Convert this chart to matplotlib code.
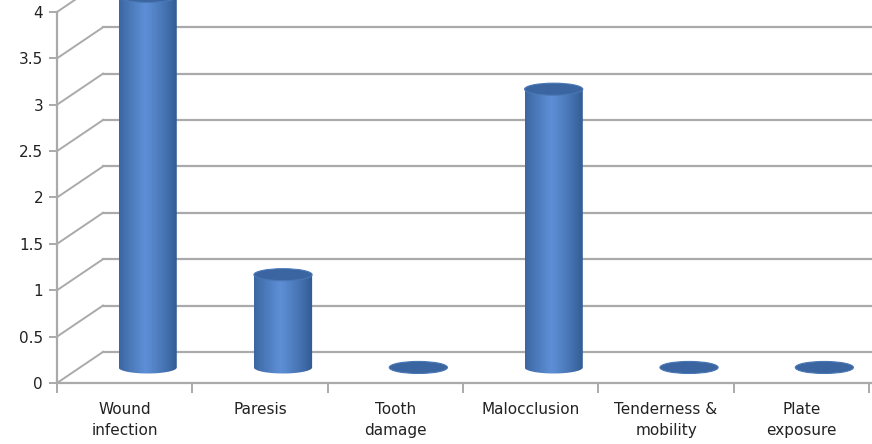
import matplotlib
matplotlib.use('Agg')
import matplotlib.pyplot as plt
import numpy as np
from matplotlib.patches import Ellipse
from matplotlib.path import Path
from matplotlib.patches import PathPatch

# ==================== data ====================
categories = ['Wound\ninfection', 'Paresis', 'Tooth\ndamage', 'Malocclusion',
              'Tenderness &\nmobility', 'Plate\nexposure']
values = [4, 1, 0, 3, 0, 0]
yticks = [0, 0.5, 1, 1.5, 2, 2.5, 3, 3.5, 4]

# ==================== style ====================
grid_col = '#aaaaaa'
depth_x = 0.34      # 3D depth offset in category units
depth_y = 0.335     # 3D depth offset in value units
cyl_w = 0.43        # cylinder diameter (category units)
ell_h = 0.13        # ellipse height (value units)

fig = plt.figure(figsize=(8.72, 4.44), dpi=100)
ax = fig.add_axes([57 / 872, 61 / 444, 815 / 872, 383 / 444])
ax.set_xlim(-0.5, 5.522)
ax.set_ylim(0, 4.129)

# spines
for s in ['top', 'right']:
    ax.spines[s].set_visible(False)
for s in ['left', 'bottom']:
    ax.spines[s].set_color(grid_col)
    ax.spines[s].set_linewidth(1.6)
ax.spines['left'].set_bounds(0, 4)

ax.set_yticks(yticks)
ax.set_yticklabels([f'{t:g}' for t in yticks], fontsize=11, family='DejaVu Sans',
                   color='#222222')
ax.tick_params(axis='y', length=6, width=1.4, color=grid_col, pad=4)

ax.set_xticks(np.arange(-0.5, 6, 1))
ax.set_xticklabels([])
ax.set_xticks(np.arange(6), minor=True)
ax.set_xticklabels(categories, minor=True, fontsize=11, family='DejaVu Sans',
                   color='#222222', linespacing=1.5)
ax.tick_params(axis='x', which='major', length=7, width=1.4, color=grid_col)
ax.tick_params(axis='x', which='minor', length=0, pad=14)

# back wall grid + side diagonals
x0 = -0.5
for v in yticks:
    ax.plot([x0 + depth_x, 6], [v + depth_y, v + depth_y], color=grid_col,
            lw=1.6, zorder=1, clip_on=True)
    ax.plot([x0, x0 + depth_x], [v, v + depth_y], color=grid_col,
            lw=1.4, zorder=1, clip_on=True)

# gradient for cylinder body
grad = np.linspace(0, 1, 200)
dark = np.array([0x2e, 0x58, 0x8f]) / 255
light = np.array([0x5e, 0x8f, 0xd6]) / 255
shade = np.clip(1 - np.abs(grad - 0.45) / 0.55, 0, 1) ** 0.8
cols = dark[None, :] + (light - dark)[None, :] * shade[:, None]
img = np.tile(cols[None, :, :], (2, 1, 1))

top_col = '#3a65a0'
for i, v in enumerate(values):
    cx = i + depth_x / 2
    base = depth_y / 2
    top = base + v
    if v > 0:
        left, right = cx - cyl_w / 2, cx + cyl_w / 2
        t = np.linspace(np.pi, 2 * np.pi, 40)
        arc = np.column_stack([cx + cyl_w / 2 * np.cos(t),
                               base + ell_h / 2 * np.sin(t)])
        verts = np.vstack([[[left, top]], arc, [[right, top]], [[left, top]]])
        codes = [Path.MOVETO] + [Path.LINETO] * (len(verts) - 2) + [Path.CLOSEPOLY]
        clip = PathPatch(Path(verts, codes), facecolor='none', edgecolor='none')
        ax.add_patch(clip)
        im = ax.imshow(img, extent=[left, right, base - ell_h, top],
                       aspect='auto', zorder=3, interpolation='bilinear')
        im.set_clip_path(clip)
    ax.add_patch(Ellipse((cx, top), cyl_w, ell_h, facecolor=top_col,
                         edgecolor='#4a78b5', lw=0.8, zorder=4))

fig.savefig('out.png', dpi=100, facecolor='white')
